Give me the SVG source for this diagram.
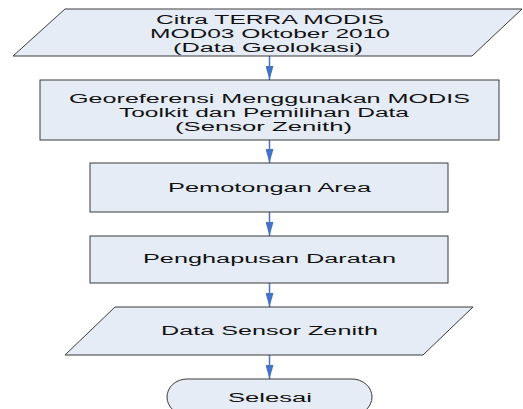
<svg xmlns="http://www.w3.org/2000/svg" width="523" height="409" viewBox="0 0 523 409">
<style>
.s{fill:#E6ECF6;stroke:#3A3A3A;stroke-width:1}
.t{font-family:"Liberation Sans",Arial,sans-serif;font-size:12.5px;fill:#111;text-anchor:middle}
.c{stroke:#4472C4;stroke-width:1.5;fill:none;marker-end:url(#ah)}
</style>
<defs>
<marker id="ah" markerUnits="userSpaceOnUse" markerWidth="16" markerHeight="8" refX="14" refY="4" orient="auto" viewBox="0 0 14 8">
<path d="M0,0 L14,4 L0,8 Z" fill="#4472C4"/>
</marker>
</defs>
<rect width="523" height="409" fill="#fff"/>
<g id="connectors">
<line class="c" x1="269.5" y1="56" x2="269.5" y2="80"/>
<line class="c" x1="269.5" y1="140" x2="269.5" y2="163"/>
<line class="c" x1="269.5" y1="212" x2="269.5" y2="236"/>
<line class="c" x1="269.5" y1="283" x2="269.5" y2="307"/>
<line class="c" x1="269.5" y1="355" x2="269.5" y2="379"/>
</g>
<g id="n1">
<polygon class="s" points="65,9 522,9 472,56 13,56"/>
<text class="t" x="270" y="23.5" textLength="228" lengthAdjust="spacingAndGlyphs">Citra TERRA MODIS</text>
<text class="t" x="270" y="37.5" textLength="240" lengthAdjust="spacingAndGlyphs">MOD03 Oktober 2010</text>
<text class="t" x="268" y="51.5" textLength="190" lengthAdjust="spacingAndGlyphs">(Data Geolokasi)</text>
</g>
<g id="n2">
<rect class="s" x="40" y="80" width="459" height="60"/>
<text class="t" x="269.5" y="103" textLength="401" lengthAdjust="spacingAndGlyphs">Georeferensi Menggunakan MODIS</text>
<text class="t" x="264" y="117" textLength="290" lengthAdjust="spacingAndGlyphs">Toolkit dan Pemilihan Data</text>
<text class="t" x="263.5" y="131" textLength="177" lengthAdjust="spacingAndGlyphs">(Sensor Zenith)</text>
</g>
<g id="n3">
<rect class="s" x="90" y="163" width="358" height="49"/>
<text class="t" x="269.5" y="192" textLength="203" lengthAdjust="spacingAndGlyphs">Pemotongan Area</text>
</g>
<g id="n4">
<rect class="s" x="90" y="236" width="358" height="47"/>
<text class="t" x="269.5" y="263" textLength="253" lengthAdjust="spacingAndGlyphs">Penghapusan Daratan</text>
</g>
<g id="n5">
<polygon class="s" points="115,307 473,307 423,355 65,355"/>
<text class="t" x="269.5" y="335" textLength="217" lengthAdjust="spacingAndGlyphs">Data Sensor Zenith</text>
</g>
<g id="n6">
<rect class="s" x="167" y="379" width="205" height="36" rx="20" ry="18"/>
<text class="t" x="270" y="401.5" textLength="84" lengthAdjust="spacingAndGlyphs">Selesai</text>
</g>
</svg>
